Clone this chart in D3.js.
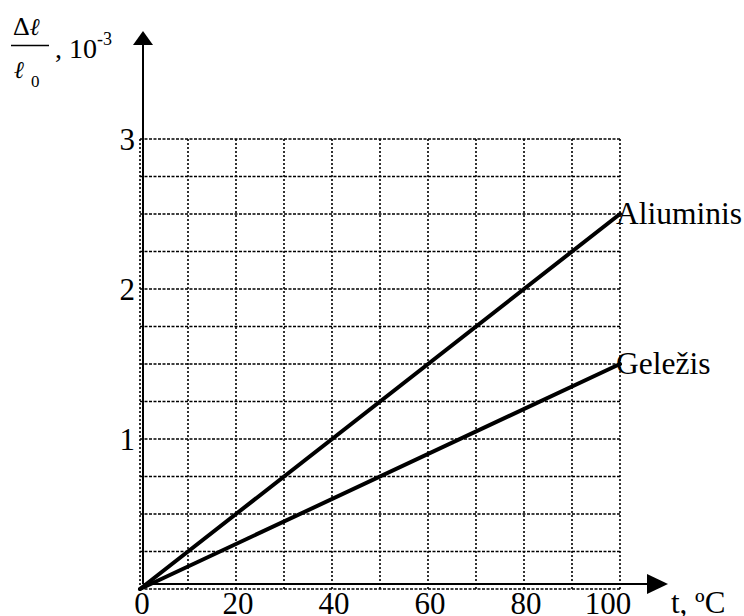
<!DOCTYPE html>
<html>
<head>
<meta charset="utf-8">
<script src="https://cdn.jsdelivr.net/npm/d3@7"></script>
<style>
  html, body { margin: 0; padding: 0; background: #fff; }
  svg { display: block; font-family: "Liberation Serif", "Times New Roman", serif; }
  .ell { font-family: "DejaVu Serif", "Liberation Serif", serif; font-style: italic; }
</style>
</head>
<body>
<svg id="chart" width="744" height="616"></svg>
<script>
// ---- data ----
const temps = [0, 100];                 // t, ºC
const aliuminis = [0, 2.5];             // Δℓ/ℓ0, 10^-3
const gelezis = [0, 1.5];
const seriesNames = ["Aliuminis", "Geležis"];
const xTickValues = [0, 20, 40, 60, 80, 100];
const yTickValues = [1, 2, 3];
const xGridValues = d3.range(0, 101, 10);
const yGridValues = d3.range(0, 3.001, 0.25);

const svg = d3.select("#chart");
const x = d3.scaleLinear().domain([0, 100]).range([140, 620]);
const y = d3.scaleLinear().domain([0, 3]).range([589, 139]);

// grid
const grid = svg.append("g").attr("stroke", "#000").attr("fill", "none");
grid.selectAll("line.v").data(xGridValues).join("line")
  .attr("class", "v")
  .attr("x1", d => x(d)).attr("x2", d => x(d))
  .attr("y1", y(0)).attr("y2", y(3))
  .attr("stroke-width", 1.6).attr("stroke-dasharray", "2,2");
grid.selectAll("line.h").data(yGridValues).join("line")
  .attr("class", "h")
  .attr("x1", x(0)).attr("x2", x(100))
  .attr("y1", d => y(d)).attr("y2", d => y(d))
  .attr("stroke-width", 1.4).attr("stroke-dasharray", "3,1.5");

// axes with arrows
const ax0 = 143, ay0 = 584;
svg.append("line").attr("x1", ax0).attr("x2", ax0).attr("y1", ay0).attr("y2", 44)
  .attr("stroke", "#000").attr("stroke-width", 2);
svg.append("path").attr("d", `M${ax0},31 L${ax0 - 10},45 L${ax0 + 10},45 Z`).attr("fill", "#000");
svg.append("line").attr("x1", ax0).attr("x2", 648).attr("y1", ay0).attr("y2", ay0)
  .attr("stroke", "#000").attr("stroke-width", 2);
svg.append("path").attr("d", `M668,${ay0} L647,${ay0 - 10} L647,${ay0 + 10} Z`).attr("fill", "#000");

// data lines
const series = [aliuminis, gelezis];
const line = d3.line().x(d => x(d[0])).y(d => y(d[1]));
svg.selectAll("path.series").data(series).join("path")
  .attr("class", "series")
  .attr("d", vals => line(temps.map((t, i) => [t, vals[i]])))
  .attr("fill", "none").attr("stroke", "#000").attr("stroke-width", 4)
  .attr("stroke-linecap", "round");

// series labels
svg.selectAll("text.slabel").data(series).join("text")
  .attr("class", "slabel")
  .attr("x", x(100) - 4)
  .attr("y", vals => y(vals[vals.length - 1]))
  .attr("dy", "0.33em")
  .attr("font-size", 31.5)
  .text((d, i) => seriesNames[i]);

// tick labels
svg.selectAll("text.xt").data(xTickValues).join("text")
  .attr("class", "xt")
  .attr("x", d => x(d) + (d === 100 ? -12 : 2))
  .attr("y", 614)
  .attr("text-anchor", "middle")
  .attr("font-size", 31)
  .text(d => d);
svg.selectAll("text.yt").data(yTickValues).join("text")
  .attr("class", "yt")
  .attr("x", 135)
  .attr("y", d => y(d))
  .attr("dy", "0.34em")
  .attr("text-anchor", "end")
  .attr("font-size", 31)
  .text(d => d);

// x axis title
svg.append("text").attr("x", 671).attr("y", 613).attr("font-size", 31).text("t, ºC");

// y axis title: Δℓ/ℓ0, 10^-3
const yt = svg.append("g");
const dl = yt.append("text").attr("x", 13).attr("y", 35).attr("font-size", 26);
dl.append("tspan").text("Δ");
dl.append("tspan").attr("class", "ell").attr("font-size", 24).text("ℓ");
yt.append("line").attr("x1", 11).attr("x2", 49).attr("y1", 45.5).attr("y2", 45.5)
  .attr("stroke", "#000").attr("stroke-width", 1.3);
const lo = yt.append("text").attr("x", 14).attr("y", 78).attr("font-size", 24);
lo.append("tspan").attr("class", "ell").text("ℓ");
lo.append("tspan").attr("dx", 7).attr("dy", 9).attr("font-size", 17).text("0");
const ten = yt.append("text").attr("x", 55).attr("y", 58).attr("font-size", 28);
ten.append("tspan").text(", 10");
ten.append("tspan").attr("dy", -13).attr("font-size", 18).text("-3");
</script>
</body>
</html>
